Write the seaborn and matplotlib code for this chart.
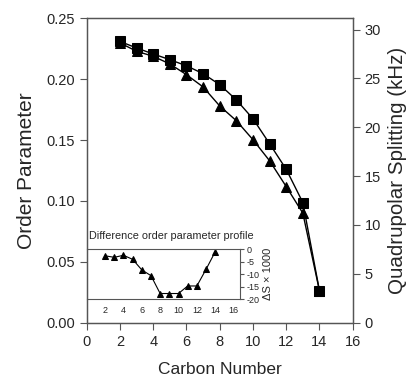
import numpy as np
import pandas as pd
import seaborn as sns
import matplotlib.pyplot as plt
import matplotlib as mpl

sns.set_style("ticks")
mpl.rcParams['font.family'] = ['Liberation Sans', 'DejaVu Sans']
mpl.rcParams['axes.unicode_minus'] = False

carbon = [2, 3, 4, 5, 6, 7, 8, 9, 10, 11, 12, 13, 14]
order_sq = [0.231, 0.2256, 0.2207, 0.216, 0.211, 0.2045, 0.1955, 0.183,
            0.1675, 0.147, 0.126, 0.0987, 0.0263]
order_tri = [0.2298, 0.2229, 0.2188, 0.2125, 0.2037, 0.1936, 0.178, 0.1659,
             0.1503, 0.133, 0.1118, 0.090, 0.0263]
diff_s = [-2.7, -3.3, -2.5, -4.1, -8.3, -10.6, -17.7, -17.7, -17.7,
          -14.7, -14.7, -8.1, -1.1]

df = pd.DataFrame({"Carbon": carbon * 2,
                   "S": order_sq + order_tri,
                   "set": ["sq"] * len(carbon) + ["tri"] * len(carbon)})
dfDiff = pd.DataFrame({"Carbon": carbon, "dS": diff_s})

fig = plt.figure(figsize=(4.17, 3.85), dpi=100)
ax = fig.add_axes([0.208, 0.1618, 0.6378, 0.7907])

sns.lineplot(data=df, x="Carbon", y="S", style="set", markers={"sq": "s", "tri": "^"},
             dashes=False, color="black", markersize=7, linewidth=1,
             markeredgecolor="black", legend=False, ax=ax)
ax.set_xlim(0, 16)
ax.set_ylim(0, 0.25)
ax.set_xticks(range(0, 17, 2))
ax.set_yticks([0, 0.05, 0.10, 0.15, 0.20, 0.25])
ax.set_yticklabels(["0.00", "0.05", "0.10", "0.15", "0.20", "0.25"])
ax.tick_params(labelsize=10.5, length=5, color="#555555")
ax.set_xlabel("Carbon Number", fontsize=12.5, labelpad=10)
ax.set_ylabel("Order Parameter", fontsize=15, labelpad=7)
for s in ax.spines.values():
    s.set_color("#555555")
    s.set_linewidth(0.9)

ax2 = ax.twinx()
ax2.set_ylim(0, 31.15)
ax2.set_yticks(range(0, 31, 5))
ax2.tick_params(labelsize=10.5, length=5, color="#555555")
ax2.set_ylabel("Quadrupolar Splitting (kHz)", fontsize=14.8, labelpad=5)
for s in ax2.spines.values():
    s.set_color("#555555")
    s.set_linewidth(0.9)

ins = fig.add_axes([0.208, 0.2226, 0.3675, 0.1306])
sns.lineplot(data=dfDiff, x="Carbon", y="dS", marker="^", color="black",
             markersize=4, linewidth=0.8, markeredgecolor="black", ax=ins)
ins.set_xlim(0, 16.7)
ins.set_ylim(-20, 0)
ins.set_xticks(range(2, 17, 2))
ins.set_yticks([0, -5, -10, -15, -20])
ins.yaxis.tick_right()
ins.yaxis.set_label_position("right")
ins.tick_params(labelsize=6.5, length=3, color="#555555", pad=2)
ins.tick_params(axis="x", length=0, pad=5)
ins.set_xlabel("")
ins.set_ylabel("ΔS × 1000", fontsize=8, labelpad=2)
ins.spines["left"].set_visible(False)
for s in ins.spines.values():
    s.set_color("#555555")
    s.set_linewidth(0.8)
ins.set_facecolor("none")
ins.set_title("Difference order parameter profile", fontsize=7.8, loc="left", x=0.015, pad=7)

fig.savefig("out.png", dpi=100)
